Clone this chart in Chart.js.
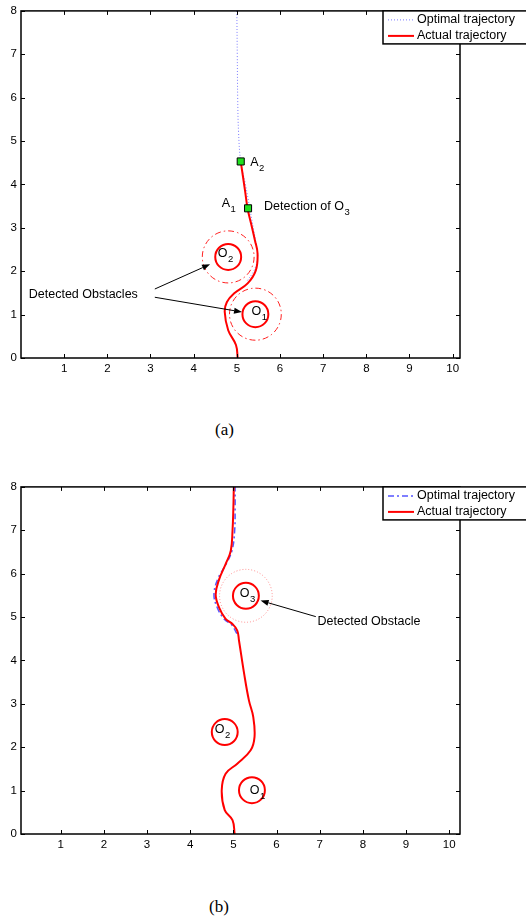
<!DOCTYPE html>
<html>
<head>
<meta charset="utf-8">
<script src="https://cdn.jsdelivr.net/npm/chart.js@4/dist/chart.umd.min.js"></script>
<style>
  body { margin: 0; background: #fff; width: 526px; height: 920px; position: relative; overflow: hidden; }
  .wrap { position: absolute; left: 0; }
  .cap { position: absolute; font-family: "Liberation Serif", "Times New Roman", serif; font-size: 17px; color: #000; line-height: 1; }
</style>
</head>
<body>
<div class="wrap" style="top:0px"><canvas id="chartA" width="526" height="390"></canvas></div>
<div class="wrap" style="top:476px"><canvas id="chartB" width="526" height="390"></canvas></div>
<div class="cap" style="left:215px; top:421px">(a)</div>
<div class="cap" style="left:209px; top:898px">(b)</div>

<script>
// ---------------- data ----------------
const xTicks = [1, 2, 3, 4, 5, 6, 7, 8, 9, 10];
const yTicks = [0, 1, 2, 3, 4, 5, 6, 7, 8];

// (a) trajectories
const optimalAX = [5.00, 5.01, 5.02, 5.04, 5.09, 5.20, 5.30, 5.39, 5.46, 5.48, 5.40, 5.22];
const optimalAY = [8.00, 7.00, 6.00, 5.20, 4.53, 4.00, 3.45, 2.95, 2.55, 2.30, 2.02, 1.75];
const actualAX = [5.02, 4.98, 4.80, 4.72, 4.77, 4.94, 5.25, 5.44, 5.48, 5.42, 5.33, 5.25, 5.19, 5.09];
const actualAY = [0.00, 0.30, 0.64, 1.06, 1.29, 1.49, 1.72, 2.02, 2.41, 2.71, 3.10, 3.44, 3.86, 4.53];
// waypoints A2, A1
const markAX = [5.09, 5.26];
const markAY = [4.53, 3.45];

// (b) trajectories
const optimalBX = [5.08, 4.96, 4.79, 4.63, 4.55, 4.64, 4.83, 4.97, 5.03, 5.04, 5.04];
const optimalBY = [4.62, 4.82, 4.95, 5.21, 5.52, 5.88, 6.22, 6.54, 7.00, 7.52, 8.00];
const actualBX = [5.03, 4.98, 4.80, 4.73, 4.82, 5.09, 5.40, 5.49, 5.46, 5.36, 5.25, 5.13, 5.09, 4.98, 4.82, 4.67, 4.59, 4.67, 4.82, 4.94, 4.98, 5.00, 5.01];
const actualBY = [0.00, 0.32, 0.55, 1.01, 1.39, 1.62, 1.93, 2.24, 2.70, 3.08, 3.69, 4.46, 4.69, 4.84, 4.96, 5.22, 5.52, 5.87, 6.22, 6.53, 6.99, 7.52, 8.00];

// obstacles (centre, radius, detection radius)
const obsAX = [5.43, 4.80];
const obsAY = [1.01, 2.33];
const obsAR = [0.30, 0.30];
const detAR = [0.60, 0.60];
const obsBX = [5.43, 4.80, 5.29];
const obsBY = [1.01, 2.35, 5.49];
const obsBR = [0.30, 0.30, 0.30];
const detBR = [0, 0, 0.61];

const FONT = '"Liberation Sans", Arial, Helvetica, sans-serif';

const toPts = (xs, ys) => xs.map((x, i) => ({ x: x, y: ys[i] }));

// ---------------- custom drawing plugin ----------------
function subText(ctx, x, y, base, sub) {
    ctx.font = '12.5px ' + FONT;
    ctx.textAlign = 'left';
    ctx.textBaseline = 'middle';
    ctx.fillStyle = '#000';
    ctx.fillText(base, x, y);
    if (sub) {
        const w = ctx.measureText(base).width;
        ctx.font = '9.5px ' + FONT;
        ctx.fillText(sub, x + w + 0.5, y + 6);
    }
}

function arrow(ctx, x1, y1, x2, y2) {
    const ang = Math.atan2(y2 - y1, x2 - x1);
    const len = 8, half = 3;
    ctx.strokeStyle = '#000';
    ctx.fillStyle = '#000';
    ctx.lineWidth = 1;
    ctx.setLineDash([]);
    ctx.beginPath();
    ctx.moveTo(x1, y1);
    ctx.lineTo(x2 - Math.cos(ang) * len, y2 - Math.sin(ang) * len);
    ctx.stroke();
    ctx.beginPath();
    ctx.moveTo(x2, y2);
    ctx.lineTo(x2 - Math.cos(ang) * len - Math.sin(ang) * half, y2 - Math.sin(ang) * len + Math.cos(ang) * half);
    ctx.lineTo(x2 - Math.cos(ang) * len + Math.sin(ang) * half, y2 - Math.sin(ang) * len - Math.cos(ang) * half);
    ctx.closePath();
    ctx.fill();
}

const sketchPlugin = {
    id: 'sketch',
    beforeDatasetsDraw(chart, args, opts) {
        const { ctx, scales: { x, y } } = chart;
        ctx.save();
        opts.obsX.forEach((cx, i) => {
            const px = x.getPixelForValue(cx), py = y.getPixelForValue(opts.obsY[i]);
            // detection zone
            if (opts.detR[i] > 0) {
                const rx = x.getPixelForValue(cx + opts.detR[i]) - px;
                const ry = py - y.getPixelForValue(opts.obsY[i] + opts.detR[i]);
                ctx.beginPath();
                ctx.ellipse(px, py, rx, ry, 0, 0, Math.PI * 2);
                ctx.setLineDash(opts.detDash);
                ctx.strokeStyle = opts.detColor;
                ctx.lineWidth = 1;
                ctx.stroke();
            }
            const rx = x.getPixelForValue(cx + opts.obsR[i]) - px;
            const ry = py - y.getPixelForValue(opts.obsY[i] + opts.obsR[i]);
            ctx.beginPath();
            ctx.ellipse(px, py, rx, ry, 0, 0, Math.PI * 2);
            ctx.setLineDash([]);
            ctx.strokeStyle = '#ff0000';
            ctx.lineWidth = 2;
            ctx.stroke();
        });
        ctx.restore();
    },
    afterDatasetsDraw(chart, args, opts) {
        const { ctx, chartArea: a, scales: { x, y } } = chart;
        ctx.save();

        // arrows + labels
        opts.arrows.forEach(r => {
            arrow(ctx, x.getPixelForValue(r[0]), y.getPixelForValue(r[1]), x.getPixelForValue(r[2]), y.getPixelForValue(r[3]));
        });
        opts.labels.forEach(l => {
            subText(ctx, x.getPixelForValue(l.x), y.getPixelForValue(l.y), l.text, l.sub);
        });

        // axes box with inward ticks on all sides
        ctx.setLineDash([]);
        ctx.strokeStyle = '#000';
        ctx.lineWidth = 1;
        ctx.beginPath();
        const tl = 4;
        xTicks.forEach(v => {
            const px = Math.round(x.getPixelForValue(v)) + 0.5;
            ctx.moveTo(px, a.bottom); ctx.lineTo(px, a.bottom - tl);
            ctx.moveTo(px, a.top); ctx.lineTo(px, a.top + tl);
        });
        yTicks.forEach(v => {
            const py = Math.round(y.getPixelForValue(v)) + 0.5;
            ctx.moveTo(a.left, py); ctx.lineTo(a.left + tl, py);
            ctx.moveTo(a.right, py); ctx.lineTo(a.right - tl, py);
        });
        ctx.stroke();
        ctx.lineWidth = 1.5;
        ctx.strokeRect(a.left, a.top, a.right - a.left, a.bottom - a.top);

        // legend box
        const lx = 383, ly = a.top, lw = 160, lh = 33;
        ctx.fillStyle = '#fff';
        ctx.fillRect(lx, ly, lw, lh);
        ctx.lineWidth = 1.5;
        ctx.strokeRect(lx, ly, lw, lh);
        chart.data.datasets.slice(0, 2).forEach((ds, i) => {
            const yy = ly + 9 + i * 16;
            ctx.beginPath();
            ctx.setLineDash(ds.borderDash || []);
            ctx.strokeStyle = ds.borderColor;
            ctx.lineWidth = ds.borderWidth;
            ctx.moveTo(388, yy);
            ctx.lineTo(414, yy);
            ctx.stroke();
            ctx.setLineDash([]);
            ctx.fillStyle = '#000';
            ctx.font = '12.5px ' + FONT;
            ctx.textAlign = 'left';
            ctx.textBaseline = 'middle';
            ctx.fillText(ds.label, 417, yy);
        });
        ctx.restore();
    }
};

// ---------------- chart factory ----------------
function makeChart(id, xMin, xMax, datasets, extras) {
    return new Chart(document.getElementById(id), {
        type: 'scatter',
        data: { datasets: datasets },
        options: {
            responsive: false,
            animation: false,
            devicePixelRatio: 1,
            layout: { padding: { top: 10, right: 66, bottom: 12, left: 0 } },
            plugins: {
                legend: { display: false },
                tooltip: { enabled: false },
                sketch: extras
            },
            scales: {
                x: {
                    type: 'linear', min: xMin, max: xMax,
                    afterBuildTicks: s => { s.ticks = xTicks.map(v => ({ value: v })); },
                    afterFit: s => { s.height = 20; },
                    grid: { display: false, drawTicks: false },
                    border: { display: false },
                    ticks: { padding: 4, color: '#000', font: { family: FONT, size: 11.5 } }
                },
                y: {
                    type: 'linear', min: 0, max: 8,
                    afterBuildTicks: s => { s.ticks = yTicks.map(v => ({ value: v })); },
                    afterFit: s => { s.width = 21; },
                    grid: { display: false, drawTicks: false },
                    border: { display: false },
                    ticks: { padding: 4, color: '#000', font: { family: FONT, size: 11.5 } }
                }
            }
        },
        plugins: [sketchPlugin]
    });
}

document.addEventListener('DOMContentLoaded', () => {
    // (a)
    makeChart('chartA', 0, 10.17, [
        {
            label: 'Optimal trajectory',
            data: toPts(optimalAX, optimalAY),
            showLine: true, borderColor: '#7b7bff', borderWidth: 1, borderDash: [1, 2],
            pointRadius: 0, tension: 0.4, order: 2
        },
        {
            label: 'Actual trajectory',
            data: toPts(actualAX, actualAY),
            showLine: true, borderColor: '#ff0000', borderWidth: 2,
            pointRadius: 0, tension: 0.4, order: 1
        },
        {
            label: 'Waypoints',
            data: toPts(markAX, markAY),
            showLine: false, pointStyle: 'rect', pointRadius: 5,
            backgroundColor: '#1fe01f', borderColor: '#000', borderWidth: 1, order: 0
        }
    ], {
        obsX: obsAX, obsY: obsAY, obsR: obsAR, detR: detAR,
        detDash: [6, 3, 1.5, 3], detColor: '#ff2020',
        arrows: [[3.10, 1.59, 4.38, 2.16], [3.10, 1.40, 5.12, 1.06]],
        labels: [
            { text: 'Detected Obstacles', x: 0.18, y: 1.47 },
            { text: 'A', sub: '2', x: 5.31, y: 4.51 },
            { text: 'A', sub: '1', x: 4.65, y: 3.56 },
            { text: 'Detection of O', sub: '3', x: 5.63, y: 3.49 },
            { text: 'O', sub: '2', x: 4.56, y: 2.41 },
            { text: 'O', sub: '1', x: 5.34, y: 1.08 }
        ]
    });

    // (b)
    makeChart('chartB', 0.08, 10.25, [
        {
            label: 'Optimal trajectory',
            data: toPts(optimalBX, optimalBY),
            showLine: true, borderColor: '#5555ff', borderWidth: 1.5, borderDash: [6, 3, 2, 3],
            pointRadius: 0, tension: 0.4, order: 2
        },
        {
            label: 'Actual trajectory',
            data: toPts(actualBX, actualBY),
            showLine: true, borderColor: '#ff0000', borderWidth: 2,
            pointRadius: 0, tension: 0.4, order: 1
        }
    ], {
        obsX: obsBX, obsY: obsBY, obsR: obsBR, detR: detBR,
        detDash: [1, 2], detColor: '#ff8a8a',
        arrows: [[6.91, 5.01, 5.63, 5.38]],
        labels: [
            { text: 'Detected Obstacle', x: 6.95, y: 4.90 },
            { text: 'O', sub: '3', x: 5.15, y: 5.54 },
            { text: 'O', sub: '2', x: 4.57, y: 2.41 },
            { text: 'O', sub: '1', x: 5.38, y: 1.01 }
        ]
    });
});
</script>
</body>
</html>
